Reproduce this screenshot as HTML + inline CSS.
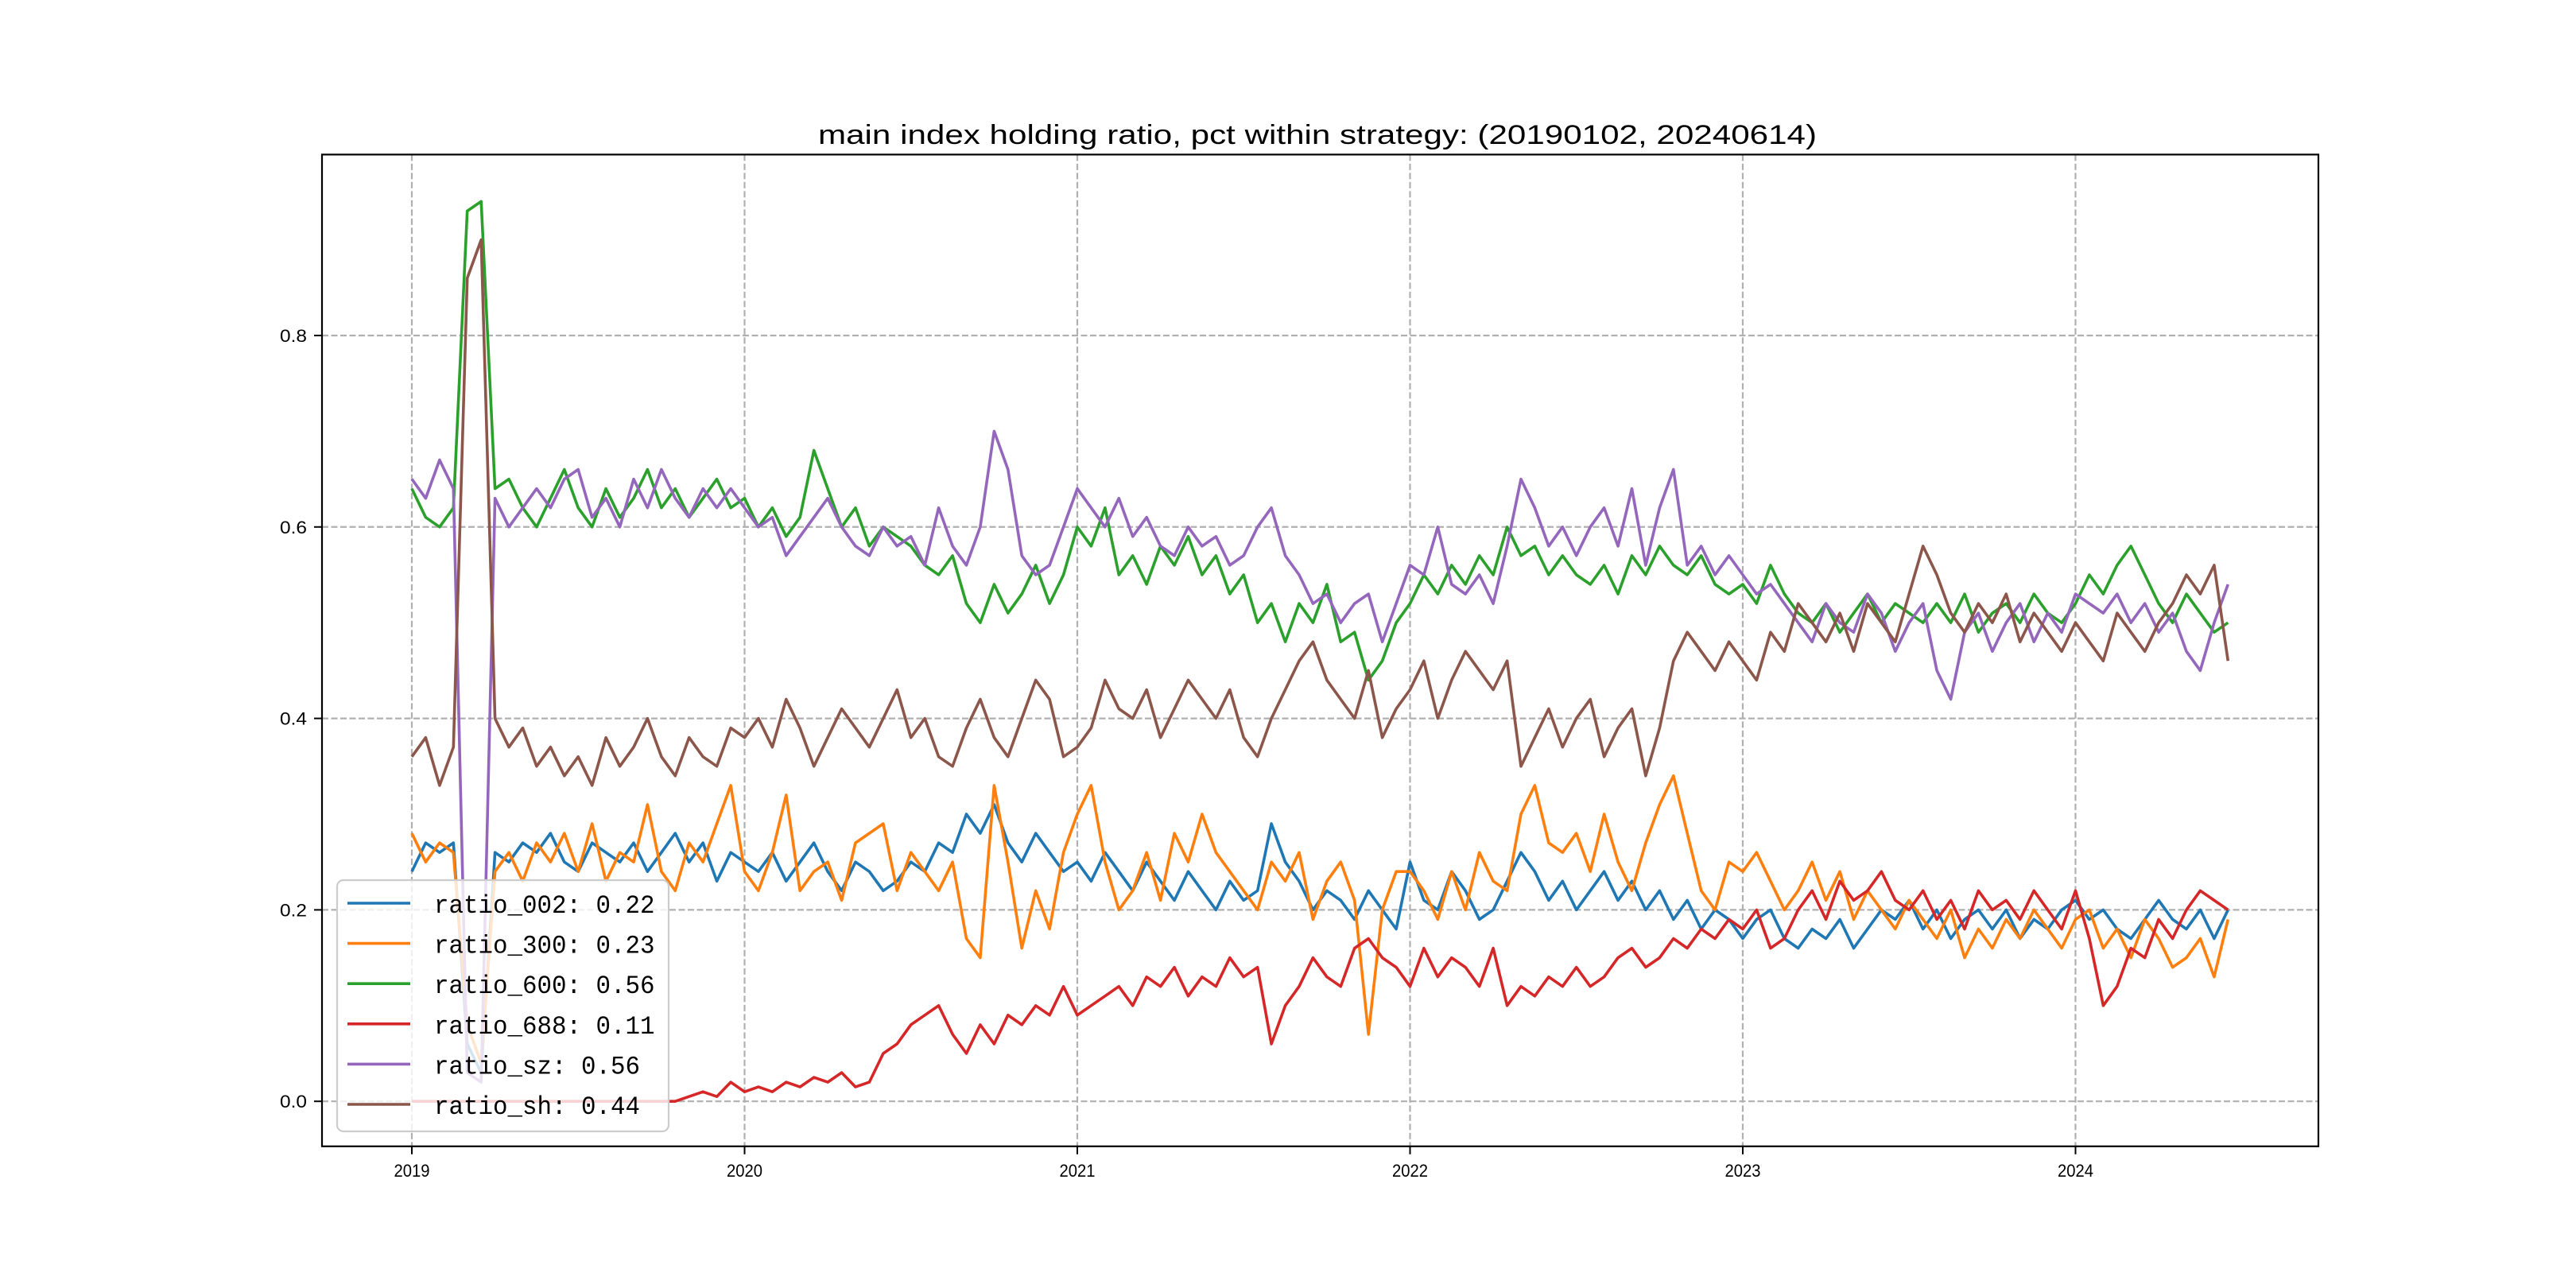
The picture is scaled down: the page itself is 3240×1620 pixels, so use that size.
<!DOCTYPE html>
<html><head><meta charset="utf-8"><style>
html,body{margin:0;padding:0;background:#fff;}
svg{display:block;}
text{font-family:"Liberation Sans","WenQuanYi Zen Hei",sans-serif;fill:#000;}
.mono{font-family:"Liberation Mono","WenQuanYi Zen Hei",monospace;}
</style></head><body>
<svg id="chart" xmlns="http://www.w3.org/2000/svg" width="3240" height="1620" viewBox="0 0 3240 1620">
<rect width="3240" height="1620" fill="#fff"/>
<text x="1657" y="181" text-anchor="middle" font-size="34" textLength="1256" lengthAdjust="spacingAndGlyphs">main index holding ratio, pct within strategy: (20190102, 20240614)</text>
<g id="grid"></g>
<g id="axes"></g>
<g id="series"></g>
<rect x="405" y="194.4" width="2511" height="1247.4" fill="none" stroke="#000" stroke-width="2.2"/>
<g id="legend"></g>
</svg>
<script>
const seriesNames = ["ratio_002","ratio_300","ratio_600","ratio_688","ratio_sz","ratio_sh"];
const seriesColors = ["#1f77b4","#ff7f0e","#2ca02c","#d62728","#9467bd","#8c564b"];
const legendValues = ["0.22","0.23","0.56","0.11","0.56","0.44"];
const yTicks = [0.0,0.2,0.4,0.6,0.8];
const yTickLabels = ["0.0","0.2","0.4","0.6","0.8"];
const xTicks = [2019,2020,2021,2022,2023,2024];
const xTickLabels = ["2019","2020","2021","2022","2023","2024"];
const startYear = 2019.0;
const stepYears = 1/24;
const r002 = [.24,.27,.26,.27,.06,.03,.26,.25,.27,.26,.28,.25,
.24,.27,.26,.25,.27,.24,.26,.28,.25,.27,.23,.26,
.25,.24,.26,.23,.25,.27,.24,.22,.25,.24,.22,.23,
.25,.24,.27,.26,.30,.28,.31,.27,.25,.28,.26,.24,
.25,.23,.26,.24,.22,.25,.23,.21,.24,.22,.20,.23,
.21,.22,.29,.25,.23,.20,.22,.21,.19,.22,.20,.18,
.25,.21,.20,.24,.22,.19,.20,.23,.26,.24,.21,.23,
.20,.22,.24,.21,.23,.20,.22,.19,.21,.18,.20,.19,
.17,.19,.20,.17,.16,.18,.17,.19,.16,.18,.20,.19,
.21,.18,.20,.17,.19,.20,.18,.20,.17,.19,.18,.20,
.21,.19,.20,.18,.17,.19,.21,.19,.18,.20,.17,.20];
const r300 = [.28,.25,.27,.26,.08,.04,.24,.26,.23,.27,.25,.28,
.24,.29,.23,.26,.25,.31,.24,.22,.27,.25,.29,.33,
.24,.22,.26,.32,.22,.24,.25,.21,.27,.28,.29,.22,
.26,.24,.22,.25,.17,.15,.33,.25,.16,.22,.18,.26,
.30,.33,.25,.20,.22,.26,.21,.28,.25,.30,.26,.24,
.22,.20,.25,.23,.26,.19,.23,.25,.21,.07,.20,.24,
.24,.22,.19,.24,.20,.26,.23,.22,.30,.33,.27,.26,
.28,.24,.30,.25,.22,.27,.31,.34,.28,.22,.20,.25,
.24,.26,.23,.20,.22,.25,.21,.24,.19,.22,.20,.18,
.21,.19,.17,.20,.15,.18,.16,.19,.17,.20,.18,.16,
.19,.20,.16,.18,.15,.19,.17,.14,.15,.17,.13,.19];
const r600 = [.64,.61,.60,.62,.93,.94,.64,.65,.62,.60,.63,.66,
.62,.60,.64,.61,.63,.66,.62,.64,.61,.63,.65,.62,
.63,.60,.62,.59,.61,.68,.64,.60,.62,.58,.60,.59,
.58,.56,.55,.57,.52,.50,.54,.51,.53,.56,.52,.55,
.60,.58,.62,.55,.57,.54,.58,.56,.59,.55,.57,.53,
.55,.50,.52,.48,.52,.50,.54,.48,.49,.44,.46,.50,
.52,.55,.53,.56,.54,.57,.55,.60,.57,.58,.55,.57,
.55,.54,.56,.53,.57,.55,.58,.56,.55,.57,.54,.53,
.54,.52,.56,.53,.51,.50,.52,.49,.51,.53,.50,.52,
.51,.50,.52,.50,.53,.49,.51,.52,.50,.53,.51,.50,
.52,.55,.53,.56,.58,.55,.52,.50,.53,.51,.49,.50];
const r688 = [0,0,0,0,0,0,0,0,0,0,0,0,
0,0,0,0,0,0,0,0,.005,.01,.005,.02,
.01,.015,.01,.02,.015,.025,.02,.03,.015,.02,.05,.06,
.08,.09,.10,.07,.05,.08,.06,.09,.08,.10,.09,.12,
.09,.10,.11,.12,.10,.13,.12,.14,.11,.13,.12,.15,
.13,.14,.06,.10,.12,.15,.13,.12,.16,.17,.15,.14,
.12,.16,.13,.15,.14,.12,.16,.10,.12,.11,.13,.12,
.14,.12,.13,.15,.16,.14,.15,.17,.16,.18,.17,.19,
.18,.20,.16,.17,.20,.22,.19,.23,.21,.22,.24,.21,
.20,.22,.19,.21,.18,.22,.20,.21,.19,.22,.20,.18,
.22,.17,.10,.12,.16,.15,.19,.17,.20,.22,.21,.20];
const rsz = [.65,.63,.67,.64,.03,.02,.63,.60,.62,.64,.62,.65,
.66,.61,.63,.60,.65,.62,.66,.63,.61,.64,.62,.64,
.62,.60,.61,.57,.59,.61,.63,.60,.58,.57,.60,.58,
.59,.56,.62,.58,.56,.60,.70,.66,.57,.55,.56,.60,
.64,.62,.60,.63,.59,.61,.58,.57,.60,.58,.59,.56,
.57,.60,.62,.57,.55,.52,.53,.50,.52,.53,.48,.52,
.56,.55,.60,.54,.53,.55,.52,.58,.65,.62,.58,.60,
.57,.60,.62,.58,.64,.56,.62,.66,.56,.58,.55,.57,
.55,.53,.54,.52,.50,.48,.52,.50,.49,.53,.51,.47,
.50,.52,.45,.42,.49,.51,.47,.50,.52,.48,.51,.49,
.53,.52,.51,.53,.50,.52,.49,.51,.47,.45,.50,.54];
const rsh = [.36,.38,.33,.37,.86,.90,.40,.37,.39,.35,.37,.34,
.36,.33,.38,.35,.37,.40,.36,.34,.38,.36,.35,.39,
.38,.40,.37,.42,.39,.35,.38,.41,.39,.37,.40,.43,
.38,.40,.36,.35,.39,.42,.38,.36,.40,.44,.42,.36,
.37,.39,.44,.41,.40,.43,.38,.41,.44,.42,.40,.43,
.38,.36,.40,.43,.46,.48,.44,.42,.40,.45,.38,.41,
.43,.46,.40,.44,.47,.45,.43,.46,.35,.38,.41,.37,
.40,.42,.36,.39,.41,.34,.39,.46,.49,.47,.45,.48,
.46,.44,.49,.47,.52,.50,.48,.51,.47,.52,.50,.48,
.53,.58,.55,.51,.49,.52,.50,.53,.48,.51,.49,.47,
.50,.48,.46,.51,.49,.47,.50,.52,.55,.53,.56,.46];
const seriesData = [r002,r300,r600,r688,rsz,rsh];

const NS = "http://www.w3.org/2000/svg";
const L=405,R=2916,T=194.4,B=1441.8;
const xMin=2018.73, xMax=2024.73;
const yMin=-0.047, yMax=0.989;
function xs(v){return L+(v-xMin)/(xMax-xMin)*(R-L);}
function ys(v){return B-(v-yMin)/(yMax-yMin)*(B-T);}
function mk(tag,attrs,parent){const e=document.createElementNS(NS,tag);for(const k in attrs)e.setAttribute(k,attrs[k]);parent.appendChild(e);return e;}

const grid=document.getElementById('grid');
const axes=document.getElementById('axes');
xTicks.forEach((t,i)=>{
  const x=xs(t);
  const g=mk('line',{x1:x,x2:x,y1:T,y2:B,stroke:'#b0b0b0','stroke-width':2.2,'stroke-dasharray':'8,3.5'},grid);
  
  
  const tk=mk('line',{x1:x,x2:x,y1:B,y2:B+10,stroke:'#000','stroke-width':2},axes);
  
  
  const tx=mk('text',{x:x,y:B+38,'text-anchor':'middle','font-size':22,textLength:45,lengthAdjust:'spacingAndGlyphs'},axes);
  tx.textContent=xTickLabels[i];
  
  
});
yTicks.forEach((t,i)=>{
  const y=ys(t);
  const g=mk('line',{x1:L,x2:R,y1:y,y2:y,stroke:'#b0b0b0','stroke-width':2.2,'stroke-dasharray':'8,3.5'},grid);
  
  
  const tk=mk('line',{x1:L-10,x2:L,y1:y,y2:y,stroke:'#000','stroke-width':2},axes);
  
  
  const tx=mk('text',{x:L-19,y:y+8,'text-anchor':'end','font-size':22,textLength:34,lengthAdjust:'spacingAndGlyphs'},axes);
  tx.textContent=yTickLabels[i];
  
  
});

const ser=document.getElementById('series');
seriesData.forEach((arr,si)=>{
  const pts=arr.map((v,i)=>xs(startYear+i*stepYears).toFixed(1)+','+ys(v).toFixed(1)).join(' ');
  const p=mk('polyline',{points:pts,fill:'none',stroke:seriesColors[si],'stroke-width':3.6,'stroke-linejoin':'round'},ser);
  
  
});

const leg=document.getElementById('legend');
const box=mk('rect',{x:424,y:1107,width:417,height:316,rx:8,fill:'#fff','fill-opacity':0.8,stroke:'#cccccc','stroke-width':2.2},leg);


seriesNames.forEach((n,i)=>{
  const y=1136+i*50.6;
  const ln=mk('line',{x1:437,x2:516,y1:y,y2:y,stroke:seriesColors[i],'stroke-width':3.6},leg);
  
  
  const label=n+': '+legendValues[i];
  const tx=mk('text',{x:546,y:y+12,'font-size':32,'class':'mono',textLength:label.length*18.5,lengthAdjust:'spacingAndGlyphs'},leg);
  tx.textContent=label;
  
  
});
</script>
</body></html>
